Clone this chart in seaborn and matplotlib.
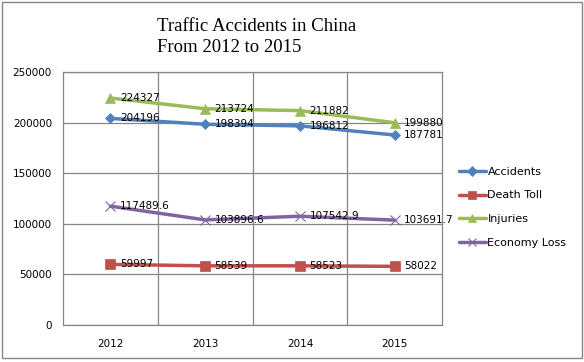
import numpy as np
import pandas as pd
import seaborn as sns
import matplotlib.pyplot as plt
from matplotlib.patches import Rectangle

# -------------------------------
# Data
# -------------------------------
years = ["2012", "2013", "2014", "2015"]
accidents = [204196, 198394, 196812, 187781]
death_toll = [59997, 58539, 58523, 58022]
injuries = [224327, 213724, 211882, 199880]
economy_loss = [117489.6, 103896.6, 107542.9, 103691.7]

series_names = ["Accidents", "Death Toll", "Injuries", "Economy Loss"]
series_values = [accidents, death_toll, injuries, economy_loss]
label_text = [
    ["204196", "198394", "196812", "187781"],
    ["59997", "58539", "58523", "58022"],
    ["224327", "213724", "211882", "199880"],
    ["117489.6", "103896.6", "107542.9", "103691.7"],
]
colors = ["#4F81BD", "#C0504D", "#9BBB59", "#8064A2"]
markers = ["D", "s", "^", "x"]
msizes = [5.5, 7, 7, 7]

# -------------------------------
# Figure
# -------------------------------
sns.set_style("white")
plt.rcParams['font.family'] = ['DejaVu Sans']
plt.rcParams['text.color'] = 'black'
plt.rcParams['xtick.color'] = 'black'
plt.rcParams['ytick.color'] = 'black'

fig = plt.figure(figsize=(5.84, 3.62), dpi=100)
ax = fig.add_axes([0.108, 0.102, 0.649, 0.699])

x = np.arange(len(years))
for name, vals, c, m, ms, labs in zip(series_names, series_values, colors,
                                      markers, msizes, label_text):
    sns.lineplot(x=x, y=vals, ax=ax, color=c, marker=m, markersize=ms,
                 linewidth=2.5, markeredgecolor=c,
                 markeredgewidth=0.8 if m == "x" else 0.5,
                 label=name)
    for xi, yi, t in zip(x, vals, labs):
        ax.text(xi + 0.1, yi, t, fontsize=7.5, va="center", ha="left", color="black")

ax.set_xlim(-0.5, 3.5)
ax.set_ylim(0, 250000)
ax.set_yticks(np.arange(0, 250001, 50000))
ax.set_yticklabels([str(v) for v in range(0, 250001, 50000)], fontsize=7.5)
ax.set_xticks(x)
ax.set_xticklabels(years, fontsize=7.5)
ax.set_xticks([0.5, 1.5, 2.5], minor=True)
ax.tick_params(axis="x", which="major", length=0, pad=10)
ax.tick_params(axis="x", which="minor", length=4, color="#868686")
ax.tick_params(axis="y", length=4, color="#868686", labelcolor="black", pad=4)

ax.grid(axis="y", color="#868686", linewidth=0.9)
for b in [0.5, 1.5, 2.5]:
    ax.axvline(b, color="#868686", linewidth=0.9, zorder=0)
for s in ax.spines.values():
    s.set_color("#868686")
    s.set_linewidth(0.9)

leg = ax.legend(loc="center left", bbox_to_anchor=(1.045, 0.465), frameon=False,
                fontsize=8, handlelength=2.4, labelspacing=1.25, handletextpad=0.15,
                borderaxespad=0, borderpad=0, markerscale=0.85)

fig.text(0.44, 0.898, "Traffic Accidents in China\nFrom 2012 to 2015",
         family="Liberation Serif", fontsize=13.5, ha="center", va="center",
         multialignment="left", linespacing=1.3, color="black")

fig.patches.append(Rectangle((0.004, 0.012), 0.992, 0.982, transform=fig.transFigure,
                             fill=False, edgecolor="#868686", linewidth=1))

fig.savefig("out.png", dpi=100)
